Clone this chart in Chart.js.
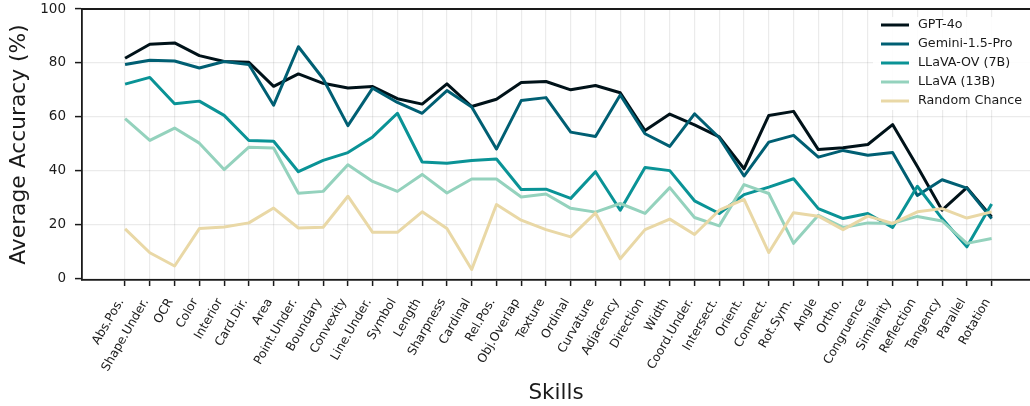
<!DOCTYPE html>
<html>
<head>
<meta charset="utf-8">
<script src="https://cdn.jsdelivr.net/npm/chart.js@4"></script>
<style>
  html, body { margin: 0; padding: 0; background: #fff; overflow: hidden; }
  #wrap { width: 1030px; height: 406px; position: relative; }
</style>
</head>
<body>
<div id="wrap"><canvas id="skillsChart"></canvas></div>
<script>
const skills = ['Abs.Pos.', 'Shape.Under.', 'OCR', 'Color', 'Interior', 'Card.Dir.', 'Area', 'Point.Under.',
  'Boundary', 'Convexity', 'Line.Under.', 'Symbol', 'Length', 'Sharpness', 'Cardinal', 'Rel.Pos.',
  'Obj.Overlap', 'Texture', 'Ordinal', 'Curvature', 'Adjacency', 'Direction', 'Width', 'Coord.Under.',
  'Intersect.', 'Orient.', 'Connect.', 'Rot.Sym.', 'Angle', 'Ortho.', 'Congruence', 'Similarity',
  'Reflection', 'Tangency', 'Parallel', 'Rotation'];

const gpt4o = [81.7, 86.9, 87.4, 82.7, 80.5, 80.2, 71.3, 75.9, 72.4, 70.7, 71.2, 66.7, 64.7, 72.2, 63.8, 66.5,
  72.7, 73.1, 70.0, 71.6, 68.9, 54.9, 61.0, 57.0, 52.5, 40.7, 60.5, 62.0, 47.8, 48.5, 49.7, 57.1,
  41.5, 25.3, 33.7, 22.8];
const gemini = [79.4, 81.0, 80.7, 78.1, 80.5, 79.4, 64.3, 86.0, 74.1, 56.7, 70.6, 65.3, 61.3, 69.7, 63.6, 48.0,
  66.0, 67.1, 54.3, 52.7, 68.1, 53.7, 49.0, 61.1, 52.2, 38.0, 50.6, 53.1, 45.0, 47.5, 45.7, 46.7,
  30.8, 36.6, 33.5, 22.2];
const llavaOv = [72.1, 74.6, 64.8, 65.8, 60.5, 51.2, 50.9, 39.6, 43.8, 46.7, 52.5, 61.3, 43.2, 42.7, 43.8, 44.3,
  33.0, 33.1, 29.7, 39.6, 25.3, 41.2, 40.0, 28.8, 24.1, 31.1, 33.9, 37.0, 25.9, 22.2, 24.1, 18.9,
  34.2, 22.2, 11.7, 27.6];
const llava13b = [59.3, 51.2, 55.8, 50.2, 40.4, 48.7, 48.4, 31.6, 32.3, 42.2, 36.0, 32.3, 38.6, 31.7, 36.9, 36.9,
  30.2, 31.3, 26.0, 24.6, 27.8, 24.1, 33.7, 22.6, 19.5, 34.8, 31.5, 13.0, 23.4, 18.9, 20.6, 20.4,
  23.0, 21.3, 13.0, 14.8];
const randomChance = [18.4, 9.5, 4.6, 18.5, 19.1, 20.6, 26.1, 18.7, 19.0, 30.5, 17.1, 17.1, 24.7, 18.5, 3.3, 27.4,
  21.6, 18.1, 15.4, 24.3, 7.3, 18.1, 22.0, 16.3, 25.3, 29.3, 9.6, 24.4, 23.1, 18.1, 23.1, 20.4,
  24.7, 25.9, 22.4, 24.7];

const seriesNames = ['GPT-4o', 'Gemini-1.5-Pro', 'LLaVA-OV (7B)', 'LLaVA (13B)', 'Random Chance'];
const seriesColors = ['#001219', '#005f73', '#0a9396', '#94d2bd', '#e9d8a6'];
const yTicks = [0, 20, 40, 60, 80, 100];

const FONT = "'DejaVu Sans', sans-serif";
const INK = '#1a1a1a';

function toPoints(values) {
  return values.map((v, i) => ({ x: i, y: v }));
}

// top spine + legend box, matplotlib style
const framePlugin = {
  id: 'frame',
  afterDatasetsDraw(chart) {
    const { ctx, chartArea } = chart;
    ctx.save();
    ctx.strokeStyle = INK;
    ctx.lineWidth = 1.8;
    ctx.beginPath();
    ctx.moveTo(chartArea.left, chartArea.top);
    ctx.lineTo(chartArea.right, chartArea.top);
    ctx.stroke();

    const boxX = chartArea.right - 157;
    const boxY = chartArea.top + 8;
    ctx.fillStyle = 'rgba(255,255,255,0.9)';
    ctx.fillRect(boxX, boxY, 160, 93);

    ctx.font = '12.7px ' + FONT;
    ctx.textBaseline = 'middle';
    chart.data.datasets.forEach((ds, i) => {
      const y = chartArea.top + 16 + i * 19;
      ctx.strokeStyle = ds.borderColor;
      ctx.lineWidth = 3;
      ctx.beginPath();
      ctx.moveTo(boxX + 8, y);
      ctx.lineTo(boxX + 36, y);
      ctx.stroke();
      ctx.fillStyle = INK;
      ctx.fillText(ds.label, boxX + 45, y);
    });
    ctx.restore();
  }
};

const allSeries = [gpt4o, gemini, llavaOv, llava13b, randomChance];

new Chart(document.getElementById('skillsChart'), {
  type: 'line',
  data: {
    datasets: allSeries.map((vals, i) => ({
      label: seriesNames[i],
      data: toPoints(vals),
      borderColor: seriesColors[i],
      backgroundColor: seriesColors[i],
      borderWidth: 3,
      pointRadius: 0,
      tension: 0,
      borderJoinStyle: 'round',
      order: allSeries.length - i
    }))
  },
  options: {
    responsive: true,
    maintainAspectRatio: false,
    animation: false,
    layout: { padding: { top: 9, right: 0, left: 0, bottom: 0 } },
    plugins: {
      legend: { display: false },
      tooltip: { enabled: false }
    },
    scales: {
      x: {
        type: 'linear',
        min: -1.74,
        max: 36.55,
        afterBuildTicks: (axis) => { axis.ticks = skills.map((_, i) => ({ value: i })); },
        afterFit: (axis) => { axis.height = 126; axis.paddingLeft = 0; axis.paddingRight = 0; },
        grid: { color: 'rgba(0,0,0,0.08)', lineWidth: 1.2, tickColor: INK, tickLength: 6, tickWidth: 1.5 },
        border: { color: INK, width: 1.8 },
        ticks: {
          autoSkip: false,
          minRotation: 60,
          maxRotation: 60,
          padding: 10,
          labelOffset: -4,
          color: INK,
          font: { family: FONT, size: 12.2 },
          callback: (v) => skills[v]
        },
        title: {
          display: true,
          text: 'Skills',
          color: INK,
          font: { family: FONT, size: 21.5 },
          padding: { top: 4, bottom: 0 }
        }
      },
      y: {
        min: -0.6,
        max: 100,
        afterBuildTicks: (axis) => { axis.ticks = yTicks.map(v => ({ value: v })); },
        afterFit: (axis) => { axis.width = 82; axis.paddingTop = 0; axis.paddingBottom = 0; },
        grid: { color: 'rgba(0,0,0,0.08)', lineWidth: 1.2, tickColor: INK, tickLength: 7, tickWidth: 1.5 },
        border: { color: INK, width: 1.8 },
        ticks: {
          padding: 9,
          color: INK,
          font: { family: FONT, size: 13.5 }
        },
        title: {
          display: true,
          text: 'Average Accuracy (%)',
          color: INK,
          font: { family: FONT, size: 21.8 },
          padding: { top: 6, bottom: 0 }
        }
      }
    }
  },
  plugins: [framePlugin]
});
</script>
</body>
</html>
